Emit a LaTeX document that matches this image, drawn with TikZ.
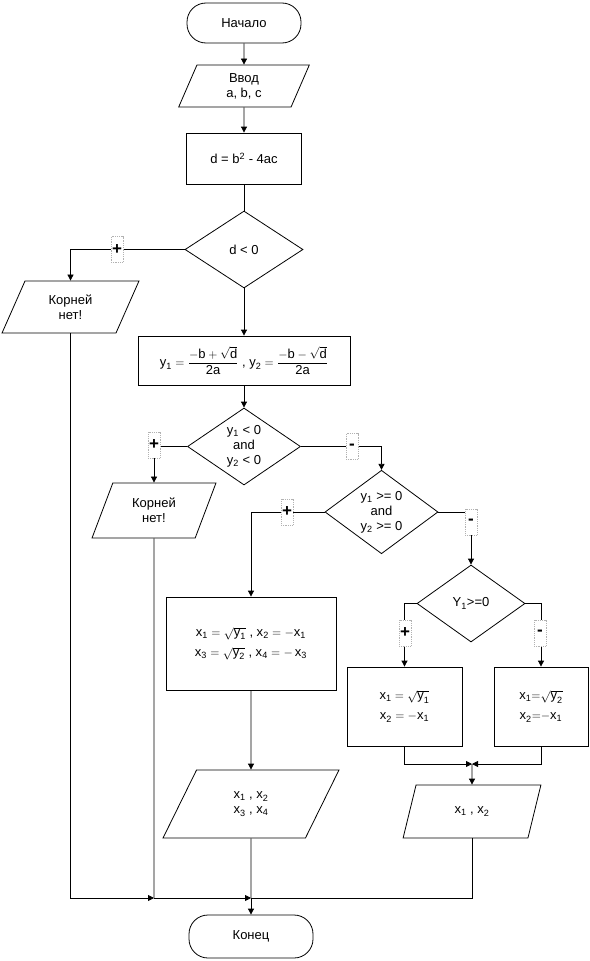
\documentclass[tikz,border=0pt]{standalone}
\usepackage{fontspec}
\usepackage{amsmath}
\setmainfont{Liberation Sans}
\usetikzlibrary{shapes.geometric,arrows.meta}

\tikzstyle{line} = [draw, -{Triangle[length=6pt,width=6pt]}]
\tikzstyle{term} = [draw, rectangle, rounded corners=19pt, minimum width=114pt, minimum height=40pt]
\tikzstyle{io} = [draw, trapezium, trapezium left angle=66, trapezium right angle=114, trapezium stretches=true, inner sep=0pt, align=center]
\tikzstyle{proc} = [draw, rectangle, inner sep=0pt, align=center]
\tikzstyle{cond} = [draw, diamond, inner sep=0pt, align=center]
\tikzstyle{sign} = [fill=white, draw=gray!60, densely dotted, minimum width=12pt, minimum height=26pt, inner sep=0pt, font=\fontsize{17}{17}\selectfont\bfseries]

\begin{document}
\begin{tikzpicture}[x=1pt, y=-1pt, line width=0.8pt, font=\fontsize{13}{15}\selectfont]
	\useasboundingbox (0,0) rectangle (589,961);
	\node[term] (begin) at (244,23) {Начало};
	\node[io, trapezium left angle=75, trapezium right angle=105, minimum width=131pt, minimum height=42pt] (input) at (244,86) {Ввод\\a, b, c};
	\node[proc, minimum width=115pt, minimum height=51pt] (calc) at (244,158.5) {d = b\textsuperscript{2} - 4ac};
	\node[cond, minimum width=118pt, minimum height=77pt] (ifd) at (244,249.5) {d < 0};
	\node[io, minimum width=137pt, minimum height=52pt] (noroot1) at (70.5,307) {Корней\\нет!}; % first "no roots"
	\node[proc, minimum width=212pt, minimum height=49pt] (roots) at (244,360.5) {$\text{y}_{\text{1}} = \dfrac{-\text{b}+\sqrt{\text{d}}}{\text{2a}}$ , $\text{y}_{\text{2}} = \dfrac{-\text{b}-\sqrt{\text{d}}}{\text{2a}}$};
	\node[cond, minimum width=113pt, minimum height=77pt] (ifneg) at (244,446.5) {y\textsubscript{1} < 0\\and\\y\textsubscript{2} < 0};
	\node[io, minimum width=124pt, minimum height=55pt] (noroot2) at (154,510.5) {Корней\\нет!}; % second "no roots"
	\node[cond, minimum width=113pt, minimum height=77pt] (ifpos) at (381.5,512) {y\textsubscript{1} >= 0\\and\\y\textsubscript{2} >= 0};
	\node[proc, minimum width=170pt, minimum height=93pt] (fourx) at (251,643.5) {$\text{x}_{\text{1}} = \sqrt{\text{y}_{\text{1}}}$ , $\text{x}_{\text{2}} = -\text{x}_{\text{1}}$\\[5pt]$\text{x}_{\text{3}} = \sqrt{\text{y}_{\text{2}}}$ , $\text{x}_{\text{4}} =-\,\text{x}_{\text{3}}$};
	\node[cond, minimum width=108pt, minimum height=77pt] (ify) at (471,603.5) {Y\textsubscript{1}>=0};
	\node[proc, minimum width=115pt, minimum height=79pt] (twoxa) at (404.5,706.5) {$\text{x}_{\text{1}} = \sqrt{\text{y}_{\text{1}}}$\\[5pt]$\text{x}_{\text{2}} = -\text{x}_{\text{1}}$};
	\node[proc, minimum width=94pt, minimum height=79pt] (twoxb) at (541,706.5) {$\text{x}_{\text{1}}{=}\sqrt{\text{y}_{\text{2}}}$\\[5pt]$\text{x}_{\text{2}}{=}{-}\text{x}_{\text{1}}$};
	\node[io, minimum width=176pt, minimum height=68pt] (outfour) at (251,804) {x\textsubscript{1} , x\textsubscript{2}\\x\textsubscript{3} , x\textsubscript{4}};
	\node[io, minimum width=138pt, minimum height=53pt] (outtwo) at (472,811.5) {x\textsubscript{1} , x\textsubscript{2}};
	\node[term, minimum width=124pt, minimum height=43pt] (finish) at (251,936.5) {Конец};
	\coordinate (merge) at (472,764);
	\coordinate (jleft) at (154,898);
	\coordinate (jmid) at (251,898);
	
	\draw[line] (begin.south) -- (input.north);
	\draw[line] (input.south) -- (calc.north);
	\draw (calc.south) -- (ifd.north);
	\draw[line] (ifd.west) -| (noroot1.north);
	\draw[line] (ifd.south) -- (roots.north);
	\draw[line] (roots.south) -- (ifneg.north);
	\draw[line] (ifneg.west) -| (noroot2.north);
	\draw[line] (ifneg.east) -| (ifpos.north);
	\draw[line] (ifpos.west) -| (fourx.north);
	\draw[line] (ifpos.east) -| (ify.north);
	\draw[line] (ify.west) -| (twoxa.north);
	\draw[line] (ify.east) -| (twoxb.north);
	\draw[line] (twoxa.south) |- (merge);
	\draw[line] (twoxb.south) |- (merge);
	\draw[line] (merge) -- (outtwo.north);
	\draw[line] (fourx.south) -- (outfour.north);
	\draw[line] (noroot1.south) |- (jleft);
	\draw (noroot2.south) -- (jleft);
	\draw[line] (jleft) -- (jmid);
	\draw (outfour.south) -- (jmid);
	\draw (outtwo.south) |- (jmid);
	\draw[line] (jmid) -- (finish.north);
	
	\node[sign] (s1) at (117,249.5) {+};
	\node[sign] (s2) at (154,445) {+};
	\node[sign] (s3) at (352,446.5) {-};
	\node[sign] (s4) at (287,512) {+};
	\node[sign] (s5) at (471,522) {-};
	\node[sign] (s6) at (405,633) {+};
	\node[sign] (s7) at (540,633) {-};
\end{tikzpicture}
\end{document}
